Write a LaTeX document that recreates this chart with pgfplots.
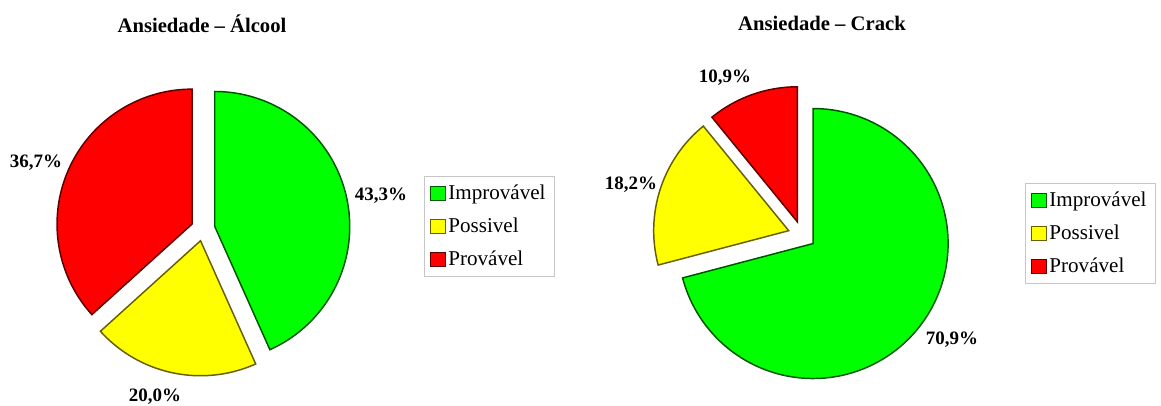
\documentclass[border=0pt]{standalone}
\usepackage{pgfplots}
\pgfplotsset{compat=1.18}
\usepackage{fontspec}
\setmainfont{Liberation Serif}
\definecolor{pgreen}{RGB}{0,255,0}
\definecolor{pgreenD}{RGB}{0,85,0}
\definecolor{pyellow}{RGB}{255,255,0}
\definecolor{pyellowD}{RGB}{105,95,0}
\definecolor{pred}{RGB}{255,0,0}
\definecolor{predD}{RGB}{95,0,0}
\pgfplotsset{
  pieaxis/.style={
    at={(0,0)}, anchor=south west,
    scale only axis, width=870.75pt, height=304.5pt,
    xmin=0, xmax=1161, ymin=0, ymax=406,
    hide axis, clip=false,
    legend image code/.code={\draw[##1, line width=0.7pt] (0pt,-5.4pt) rectangle (10.8pt,5.4pt);},
    legend style={draw=gray!45, line width=0.6pt,
      font=\fontsize{15.8}{18}\selectfont,
      cells={anchor=west}, row sep=8.2pt,
      inner xsep=4.5pt, inner ysep=4.5pt,
      /tikz/every even column/.append style={column sep=1pt}},
  },
  slice/.style={line width=1.1pt, samples=90, smooth},
}
\tikzset{
  lab/.style={font=\fontsize{14.2}{16}\selectfont\bfseries},
  ttl/.style={font=\fontsize{15.5}{18}\selectfont\bfseries},
}
\begin{document}
\begin{tikzpicture}
% ---------------- Left pie: Ansiedade - Alcool ----------------
% Improvavel 43.3, Possivel 20.0, Provavel 36.7 (clockwise from 12 o'clock)
\begin{axis}[pieaxis,
  legend style={at={(0.3652,0.5665)}, anchor=north west}]
\addplot[slice, fill=pgreen, draw=pgreenD, domain={90-3.6*43.3}:90]
  ({214.74+135*cos(x)},{179.51+135*sin(x)}) -- (axis cs:214.74,179.51) -- cycle;
\addlegendentry{Improvável}
\addplot[slice, fill=pyellow, draw=pyellowD, domain={90-3.6*(43.3+20.0)}:{90-3.6*43.3}]
  ({200.53+135*cos(x)},{165.26+135*sin(x)}) -- (axis cs:200.53,165.26) -- cycle;
\addlegendentry{Possivel}
\addplot[slice, fill=pred, draw=predD, domain={90-3.6*(43.3+20.0+36.7)}:{90-3.6*(43.3+20.0)}]
  ({192.03+135*cos(x)},{181.87+135*sin(x)}) -- (axis cs:192.03,181.87) -- cycle;
\addlegendentry{Provável}
\node[ttl] at (axis cs:202,382) {Ansiedade – Álcool};
\node[lab] at (axis cs:381,210) {43,3\%};
\node[lab] at (axis cs:36,243) {36,7\%};
\node[lab] at (axis cs:155,9) {20,0\%};
\end{axis}
% ---------------- Right pie: Ansiedade - Crack ----------------
% Improvavel 70.9, Possivel 18.2, Provavel 10.9
\begin{axis}[pieaxis,
  legend style={at={(0.8829,0.5493)}, anchor=north west}]
\addplot[slice, fill=pgreen, draw=pgreenD, domain={90-3.6*70.9}:90]
  ({813.09+135*cos(x)},{162.46+135*sin(x)}) -- (axis cs:813.09,162.46) -- cycle;
\addlegendentry{Improvável}
\addplot[slice, fill=pyellow, draw=pyellowD, domain={90-3.6*(70.9+18.2)}:{90-3.6*70.9}]
  ({788.69+135*cos(x)},{175.33+135*sin(x)}) -- (axis cs:788.69,175.33) -- cycle;
\addlegendentry{Possivel}
\addplot[slice, fill=pred, draw=predD, domain={90-3.6*(70.9+18.2+10.9)}:{90-3.6*(70.9+18.2)}]
  ({797.30+135*cos(x)},{184.19+135*sin(x)}) -- (axis cs:797.30,184.19) -- cycle;
\addlegendentry{Provável}
\node[ttl] at (axis cs:822,383) {Ansiedade – Crack};
\node[lab] at (axis cs:725,328) {10,9\%};
\node[lab] at (axis cs:631,221) {18,2\%};
\node[lab] at (axis cs:952,66) {70,9\%};
\end{axis}
\pgfresetboundingbox
\path[use as bounding box] (0,0) rectangle (870.75pt,304.5pt);
\end{tikzpicture}
\end{document}
